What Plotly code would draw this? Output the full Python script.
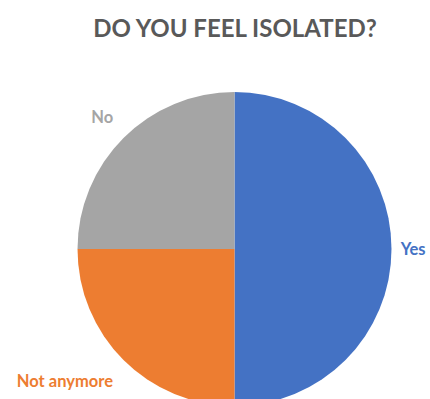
import plotly.graph_objects as go

labels = ["Yes", "Not anymore", "No"]
values = [50, 25, 25]
colors = ["#4472C4", "#ED7D31", "#A5A5A5"]
title_text = "DO YOU FEEL ISOLATED?"

# figure is a little larger than the 430x399 window; the overflow is hidden
W, H = 470, 415
NB = "\u00a0"

label_templates = [
    NB + "<b>%{label}</b>",
    NB + "<br><b>%{label}</b>",
    "<b>%{label}</b><br>" + NB,
]

fig = go.Figure(go.Pie(
    labels=labels,
    values=values,
    sort=False,
    direction="clockwise",
    rotation=0,
    marker=dict(colors=colors, line=dict(width=0)),
    textposition="outside",
    texttemplate=label_templates,
    outsidetextfont=dict(family="Lato", size=16.5, color=colors),
    hoverinfo="label+percent",
    showlegend=False,
    domain=dict(x=[77.5 / W, 391.5 / W], y=[(H - 406) / H, (H - 92) / H]),
))

fig.update_layout(
    width=W, height=H,
    margin=dict(l=0, r=0, t=0, b=0),
    paper_bgcolor="white",
    title=dict(text="<b>" + title_text + "</b>", x=235 / W, xanchor="center",
               y=1 - 29 / H, yanchor="middle",
               font=dict(family="Lato", size=24, color="#595959")),
)

fig.write_html("out.html", post_script="document.documentElement.style.overflow='hidden';document.body.style.overflow='hidden';")
